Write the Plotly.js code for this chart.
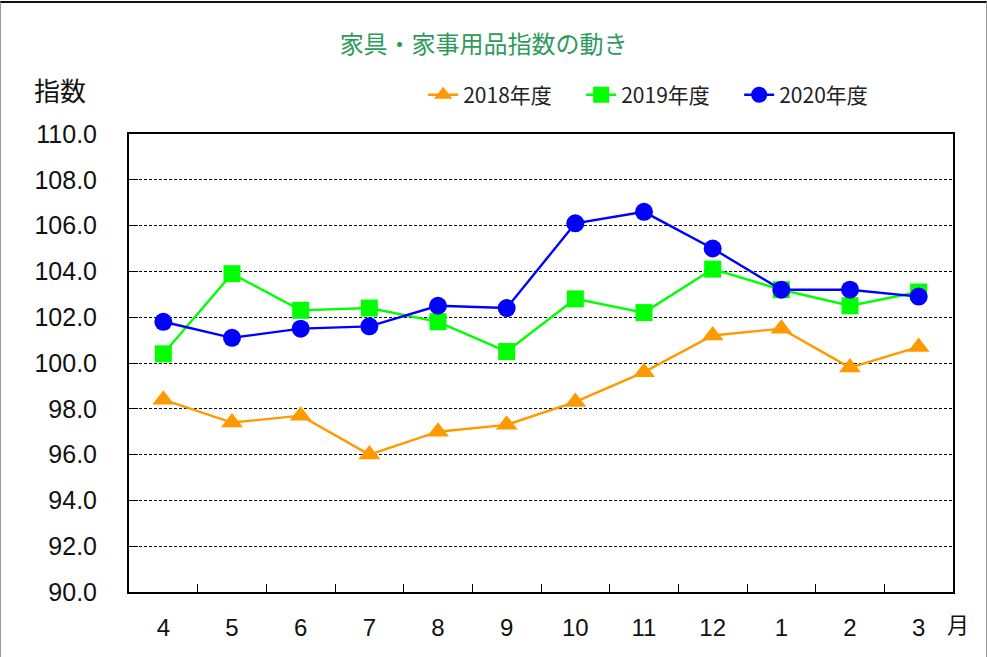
<!DOCTYPE html>
<html>
<head>
<meta charset="utf-8">
<script src="https://cdn.plot.ly/plotly-3.0.1.min.js"></script>
<style>
  html, body { margin: 0; padding: 0; background: #fff; }
  #wrap { position: relative; width: 987px; height: 657px; }
  #chart { position: absolute; left: 0; top: 0; width: 987px; height: 657px; }
  #frame { position: absolute; left: 0; top: 1px; width: 985px; height: 654px;
           border-top: 2px solid #111; border-left: 1px solid #999; border-right: 1px solid #999; border-bottom: 1px solid #999;
           pointer-events: none; }
</style>
</head>
<body>
<div id="wrap">
  <div id="chart"></div>
  <div id="frame"></div>
</div>
<script>
const months = ["4", "5", "6", "7", "8", "9", "10", "11", "12", "1", "2", "3"];
const fy2018 = [98.4, 97.4, 97.7, 96.0, 97.0, 97.3, 98.3, 99.6, 101.2, 101.5, 99.8, 100.7];
const fy2019 = [100.4, 103.9, 102.3, 102.4, 101.8, 100.5, 102.8, 102.2, 104.1, 103.2, 102.5, 103.1];
const fy2020 = [101.8, 101.1, 101.5, 101.6, 102.5, 102.4, 106.1, 106.6, 105.0, 103.2, 103.2, 102.9];
const seriesNames = ["2018年度", "2019年度", "2020年度"];
const yTicks = [90, 92, 94, 96, 98, 100, 102, 104, 106, 108, 110];
const yTickText = yTicks.map(v => v.toFixed(1));

const jp = '"Noto Sans CJK JP", "DejaVu Sans", sans-serif';
const num = '"Liberation Sans", Arial, sans-serif';

const traces = [
  { x: months, y: fy2018, name: seriesNames[0], type: 'scatter', mode: 'lines+markers',
    line: { color: '#FF9900', width: 2.4 },
    marker: { symbol: 'triangle-up', size: 19, color: '#FF9900' } },
  { x: months, y: fy2019, name: seriesNames[1], type: 'scatter', mode: 'lines+markers',
    line: { color: '#00FF00', width: 2.4 },
    marker: { symbol: 'square', size: 17, color: '#00FF00' } },
  { x: months, y: fy2020, name: seriesNames[2], type: 'scatter', mode: 'lines+markers',
    line: { color: '#0000FF', width: 2.4 },
    marker: { symbol: 'circle', size: 18, color: '#0000FF' } }
];

const layout = {
  width: 987, height: 657,
  margin: { l: 129, r: 34, t: 134, b: 65 },
  paper_bgcolor: '#fff', plot_bgcolor: '#fff',
  showlegend: true,
  title: { text: '家具・家事用品指数の動き', x: 0.49, xanchor: 'center', y: 0.932, yanchor: 'middle',
           font: { family: jp, size: 24, color: '#2E9A5C' } },
  legend: { orientation: 'h', x: 0.357, xanchor: 'left', y: 1.085, yanchor: 'middle',
            font: { family: jp, size: 21, color: '#222' }, entrywidth: 113, entrywidthmode: 'pixels',
            bgcolor: 'rgba(0,0,0,0)', traceorder: 'normal', itemclick: false },
  xaxis: {
    type: 'category', categoryorder: 'array', categoryarray: months,
    range: [-0.5, 11.5], fixedrange: true,
    showline: true, linecolor: '#000', linewidth: 2, mirror: true,
    ticks: 'inside', ticklen: 8, tickcolor: '#000', tickwidth: 1, tickson: 'boundaries',
    showgrid: false, zeroline: false,
    tickfont: { family: num, size: 24, color: '#111' }, ticklabelstandoff: 13
  },
  yaxis: {
    range: [90, 110], fixedrange: true,
    tickvals: yTicks, ticktext: yTickText,
    showline: true, linecolor: '#000', linewidth: 2, mirror: true,
    ticks: 'inside', ticklen: 9, tickcolor: '#000', tickwidth: 1,
    showgrid: true, gridcolor: '#000', gridwidth: 1, griddash: '3px,2px', zeroline: false,
    tickfont: { family: num, size: 25, color: '#111' }, ticklabelstandoff: 25
  },
  annotations: [
    { text: '指数', xref: 'paper', yref: 'paper', x: -0.084, y: 1.098, xanchor: 'center', yanchor: 'middle',
      showarrow: false, font: { family: jp, size: 26, color: '#111' } },
    { text: '月', xref: 'paper', yref: 'paper', x: 1.006, y: -0.068, xanchor: 'center', yanchor: 'middle',
      showarrow: false, font: { family: jp, size: 22, color: '#111' } }
  ]
};

Plotly.newPlot('chart', traces, layout, { displayModeBar: false, staticPlot: true });
</script>
</body>
</html>
